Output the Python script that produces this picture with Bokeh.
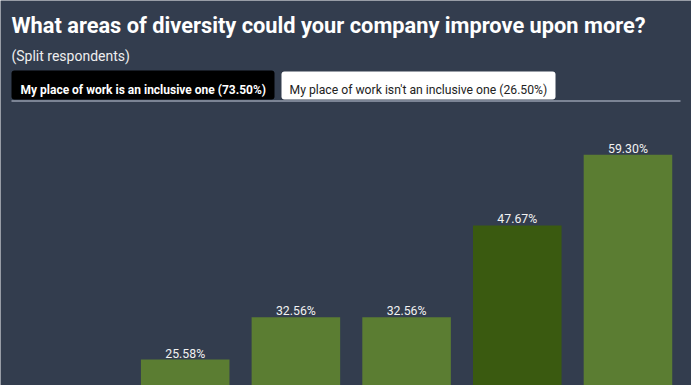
import re
from bokeh.plotting import figure
from bokeh.models import Range1d, BoxAnnotation, Label, ColumnDataSource
from bokeh.core.properties import value
from bokeh.embed import file_html
from bokeh.resources import INLINE

# ---- data ----
categories = ["Age", "Disability", "Socio-economic background",
              "Sexual orientation", "Ethnicity", "Gender"]
percentages = [18.60, 25.58, 32.56, 32.56, 47.67, 59.30]
highlighted = [False, False, False, False, True, False]
title_text = "What areas of diversity could your company improve upon more?"
subtitle_text = "(Split respondents)"
tab_active = "My place of work is an inclusive one (73.50%)"
tab_inactive = "My place of work isn't an inclusive one (26.50%)"

BG = "#333d4e"
BAR = "#5b7d32"
BAR_DARK = "#3a5a10"
FONT = "Roboto"

Y_START, Y_END = 21.30, 84.71

xs = [i + 0.5 for i in range(len(categories))]
src = ColumnDataSource(dict(
    x=xs, cat=categories, top=percentages,
    color=[BAR_DARK if h else BAR for h in highlighted],
))
vis = [i for i, v in enumerate(percentages) if v > Y_START + 3]
lab_src = ColumnDataSource(dict(
    x=[xs[i] for i in vis], top=[percentages[i] for i in vis],
    label=[f"{percentages[i]:.2f}%" for i in vis],
))

p = figure(width=691, height=385, output_backend="svg", toolbar_location=None,
           title=None, x_range=Range1d(-0.1685, 6.074), y_range=Range1d(Y_START, Y_END),
           x_axis_location=None, y_axis_location=None, min_border=0,
           background_fill_color=BG, border_fill_color=BG, outline_line_color=None)
p.grid.visible = False
# pixel-like helper ranges for the header (window coordinates)
p.extra_x_ranges = {"px": Range1d(0, 691)}
p.extra_y_ranges = {"px": Range1d(385, 0)}

p.vbar(x="x", top="top", bottom=0, width=0.8, fill_color="color",
       line_color=None, source=src)
p.text(x="x", y="top", text="label", source=lab_src, text_align="center",
       text_baseline="alphabetic", y_offset=-6, text_font=value(FONT),
       text_font_size="12.3px", text_color="#f2f2f2")

# header
p.add_layout(Label(x=11, y=25, x_range_name="px", y_range_name="px", text=title_text,
                   text_font=FONT, text_font_size="21.8px", text_font_style="bold",
                   text_color="#ffffff", text_baseline="alphabetic"))
p.add_layout(Label(x=11, y=55, x_range_name="px", y_range_name="px", text=subtitle_text,
                   text_font=FONT, text_font_size="14px", text_color="#eeeeee",
                   text_baseline="alphabetic"))

p.add_layout(BoxAnnotation(left=11, right=274, top=70, bottom=99,
                           x_range_name="px", y_range_name="px",
                           fill_color="#000000", fill_alpha=1.0, line_color=None,
                           border_radius=3))
p.add_layout(BoxAnnotation(left=281, right=555, top=71, bottom=99,
                           x_range_name="px", y_range_name="px",
                           fill_color="#ffffff", fill_alpha=1.0, line_color=None,
                           border_radius=3))
p.add_layout(Label(x=20, y=89, x_range_name="px", y_range_name="px", text=tab_active,
                   text_font=FONT, text_font_size="12px", text_font_style="bold",
                   text_color="#ffffff", text_baseline="alphabetic"))
p.add_layout(Label(x=289, y=89, x_range_name="px", y_range_name="px", text=tab_inactive,
                   text_font=FONT, text_font_size="12.2px",
                   text_color="#222222", text_baseline="alphabetic"))
p.segment(x0=[11], y0=[100.5], x1=[680], y1=[100.5], line_color="#c5ccdb",
          line_width=1, x_range_name="px", y_range_name="px")

html = file_html(p, INLINE, title="chart")
html = re.sub(r"<body([^>]*)>",
              f'<body\\1 style="background-color:{BG}; overflow:hidden;">', html, count=1)
open("out.html", "w").write(html)
